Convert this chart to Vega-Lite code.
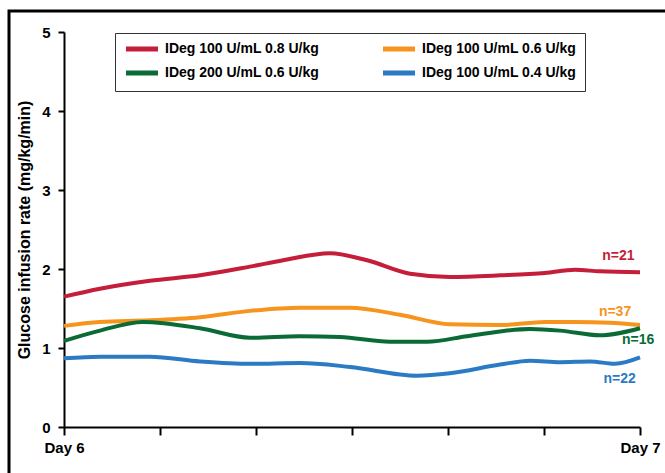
{
  "$schema": "https://vega.github.io/schema/vega-lite/v6.json",
  "autosize": "none",
  "width": 660,
  "height": 466,
  "padding": {"left": 9, "top": 11, "right": -4, "bottom": -4},
  "background": "white",
  "config": {
    "view": {"stroke": "black", "strokeWidth": 3},
    "font": "Liberation Sans",
    "axis": {
      "grid": false,
      "domainColor": "black",
      "domainWidth": 2,
      "tickColor": "black",
      "tickWidth": 2,
      "labelFont": "Liberation Sans",
      "labelFontWeight": "bold",
      "labelFontSize": 15,
      "labelColor": "black",
      "titleFont": "Liberation Sans",
      "titleFontWeight": "bold",
      "titleColor": "black"
    }
  },
  "datasets": {
    "lines": [
      {"series": "IDeg 100 U/mL 0.8 U/kg", "hour": 0, "gir": 1.65},
      {"series": "IDeg 100 U/mL 0.8 U/kg", "hour": 1.5, "gir": 1.75},
      {"series": "IDeg 100 U/mL 0.8 U/kg", "hour": 3.58, "gir": 1.85},
      {"series": "IDeg 100 U/mL 0.8 U/kg", "hour": 5.67, "gir": 1.92},
      {"series": "IDeg 100 U/mL 0.8 U/kg", "hour": 7.75, "gir": 2.03},
      {"series": "IDeg 100 U/mL 0.8 U/kg", "hour": 9.13, "gir": 2.11},
      {"series": "IDeg 100 U/mL 0.8 U/kg", "hour": 11.08, "gir": 2.2},
      {"series": "IDeg 100 U/mL 0.8 U/kg", "hour": 12.63, "gir": 2.11},
      {"series": "IDeg 100 U/mL 0.8 U/kg", "hour": 14.42, "gir": 1.94},
      {"series": "IDeg 100 U/mL 0.8 U/kg", "hour": 16.08, "gir": 1.9},
      {"series": "IDeg 100 U/mL 0.8 U/kg", "hour": 18.17, "gir": 1.92},
      {"series": "IDeg 100 U/mL 0.8 U/kg", "hour": 20.04, "gir": 1.95},
      {"series": "IDeg 100 U/mL 0.8 U/kg", "hour": 21.29, "gir": 1.99},
      {"series": "IDeg 100 U/mL 0.8 U/kg", "hour": 22.33, "gir": 1.97},
      {"series": "IDeg 100 U/mL 0.8 U/kg", "hour": 24, "gir": 1.96},
      {"series": "IDeg 100 U/mL 0.6 U/kg", "hour": 0, "gir": 1.28},
      {"series": "IDeg 100 U/mL 0.6 U/kg", "hour": 1.5, "gir": 1.33},
      {"series": "IDeg 100 U/mL 0.6 U/kg", "hour": 3.58, "gir": 1.35},
      {"series": "IDeg 100 U/mL 0.6 U/kg", "hour": 5.67, "gir": 1.39},
      {"series": "IDeg 100 U/mL 0.6 U/kg", "hour": 7.75, "gir": 1.47},
      {"series": "IDeg 100 U/mL 0.6 U/kg", "hour": 9.83, "gir": 1.51},
      {"series": "IDeg 100 U/mL 0.6 U/kg", "hour": 11.92, "gir": 1.51},
      {"series": "IDeg 100 U/mL 0.6 U/kg", "hour": 14, "gir": 1.42},
      {"series": "IDeg 100 U/mL 0.6 U/kg", "hour": 16.08, "gir": 1.3},
      {"series": "IDeg 100 U/mL 0.6 U/kg", "hour": 18.17, "gir": 1.29},
      {"series": "IDeg 100 U/mL 0.6 U/kg", "hour": 20.04, "gir": 1.33},
      {"series": "IDeg 100 U/mL 0.6 U/kg", "hour": 21.29, "gir": 1.33},
      {"series": "IDeg 100 U/mL 0.6 U/kg", "hour": 22.75, "gir": 1.32},
      {"series": "IDeg 100 U/mL 0.6 U/kg", "hour": 24, "gir": 1.29},
      {"series": "IDeg 200 U/mL 0.6 U/kg", "hour": 0, "gir": 1.09},
      {"series": "IDeg 200 U/mL 0.6 U/kg", "hour": 1.5, "gir": 1.22},
      {"series": "IDeg 200 U/mL 0.6 U/kg", "hour": 3.29, "gir": 1.33},
      {"series": "IDeg 200 U/mL 0.6 U/kg", "hour": 5.67, "gir": 1.25},
      {"series": "IDeg 200 U/mL 0.6 U/kg", "hour": 7.75, "gir": 1.13},
      {"series": "IDeg 200 U/mL 0.6 U/kg", "hour": 9.83, "gir": 1.15},
      {"series": "IDeg 200 U/mL 0.6 U/kg", "hour": 11.5, "gir": 1.14},
      {"series": "IDeg 200 U/mL 0.6 U/kg", "hour": 13.58, "gir": 1.08},
      {"series": "IDeg 200 U/mL 0.6 U/kg", "hour": 15.13, "gir": 1.08},
      {"series": "IDeg 200 U/mL 0.6 U/kg", "hour": 16.79, "gir": 1.15},
      {"series": "IDeg 200 U/mL 0.6 U/kg", "hour": 18.17, "gir": 1.21},
      {"series": "IDeg 200 U/mL 0.6 U/kg", "hour": 19.42, "gir": 1.24},
      {"series": "IDeg 200 U/mL 0.6 U/kg", "hour": 20.67, "gir": 1.22},
      {"series": "IDeg 200 U/mL 0.6 U/kg", "hour": 22.33, "gir": 1.16},
      {"series": "IDeg 200 U/mL 0.6 U/kg", "hour": 24, "gir": 1.25},
      {"series": "IDeg 100 U/mL 0.4 U/kg", "hour": 0, "gir": 0.87},
      {"series": "IDeg 100 U/mL 0.4 U/kg", "hour": 1.5, "gir": 0.89},
      {"series": "IDeg 100 U/mL 0.4 U/kg", "hour": 3.58, "gir": 0.89},
      {"series": "IDeg 100 U/mL 0.4 U/kg", "hour": 5.67, "gir": 0.83},
      {"series": "IDeg 100 U/mL 0.4 U/kg", "hour": 7.75, "gir": 0.8},
      {"series": "IDeg 100 U/mL 0.4 U/kg", "hour": 9.83, "gir": 0.81},
      {"series": "IDeg 100 U/mL 0.4 U/kg", "hour": 11.92, "gir": 0.76},
      {"series": "IDeg 100 U/mL 0.4 U/kg", "hour": 14.71, "gir": 0.65},
      {"series": "IDeg 100 U/mL 0.4 U/kg", "hour": 16.08, "gir": 0.68},
      {"series": "IDeg 100 U/mL 0.4 U/kg", "hour": 18.17, "gir": 0.79},
      {"series": "IDeg 100 U/mL 0.4 U/kg", "hour": 19.42, "gir": 0.84},
      {"series": "IDeg 100 U/mL 0.4 U/kg", "hour": 20.67, "gir": 0.82},
      {"series": "IDeg 100 U/mL 0.4 U/kg", "hour": 21.92, "gir": 0.83},
      {"series": "IDeg 100 U/mL 0.4 U/kg", "hour": 22.96, "gir": 0.8},
      {"series": "IDeg 100 U/mL 0.4 U/kg", "hour": 24, "gir": 0.88}
    ],
    "labels": [
      {"series": "IDeg 100 U/mL 0.8 U/kg", "hour": 23.1, "gir": 2.16, "label": "n=21"},
      {"series": "IDeg 100 U/mL 0.6 U/kg", "hour": 22.96, "gir": 1.46, "label": "n=37"},
      {"series": "IDeg 200 U/mL 0.6 U/kg", "hour": 23.92, "gir": 1.1, "label": "n=16"},
      {"series": "IDeg 100 U/mL 0.4 U/kg", "hour": 23.15, "gir": 0.61, "label": "n=22"}
    ]
  },
  "layer": [
    {
      "data": {"name": "lines"},
      "mark": {"type": "line", "strokeWidth": 4, "interpolate": "monotone"},
      "encoding": {
        "x": {
          "field": "hour", "type": "quantitative",
          "scale": {"domain": [0, 24], "range": [55, 631], "nice": false, "zero": false},
          "axis": {
            "values": [0, 4, 8, 12, 16, 20, 24],
            "labelExpr": "datum.value == 0 ? 'Day 6' : (datum.value == 24 ? 'Day 7' : '')",
            "title": null,
            "offset": -50,
            "tickSize": 8,
            "labelPadding": 5,
            "labelFlush": false,
            "labelOverlap": false
          }
        },
        "y": {
          "field": "gir", "type": "quantitative",
          "scale": {"domain": [0, 5], "range": [416, 21], "nice": false},
          "axis": {
            "values": [0, 1, 2, 3, 4, 5],
            "format": "d",
            "title": "Glucose infusion rate (mg/kg/min)",
            "titleFontSize": 16,
            "titlePadding": 9,
            "offset": -55,
            "tickSize": 6,
            "labelPadding": 8
          }
        },
        "color": {
          "field": "series", "type": "nominal",
          "scale": {
            "domain": ["IDeg 100 U/mL 0.8 U/kg", "IDeg 200 U/mL 0.6 U/kg", "IDeg 100 U/mL 0.6 U/kg", "IDeg 100 U/mL 0.4 U/kg"],
            "range": ["#C41E3A", "#0B6B37", "#F7941D", "#2B7BC4"]
          },
          "legend": {
            "title": null,
            "orient": "none",
            "legendX": 106,
            "legendY": 22,
            "columns": 2,
            "columnPadding": 52,
            "rowPadding": 4,
            "padding": 8,
            "symbolOffset": 11,
            "strokeColor": "#333333",
            "symbolType": "M-3,0H3",
            "symbolSize": 114,
            "symbolStrokeWidth": 5,
            "symbolFillColor": "transparent",
            "labelFont": "Liberation Sans",
            "labelFontWeight": "bold",
            "labelFontSize": 14,
            "labelColor": "black",
            "labelOffset": 15,
            "labelLimit": 300
          }
        },
        "detail": {"field": "series"}
      }
    },
    {
      "data": {"name": "labels"},
      "mark": {"type": "text", "font": "Liberation Sans", "fontWeight": "bold", "fontSize": 14, "align": "center", "baseline": "middle"},
      "encoding": {
        "x": {"field": "hour", "type": "quantitative"},
        "y": {"field": "gir", "type": "quantitative"},
        "text": {"field": "label"},
        "color": {"field": "series", "type": "nominal", "legend": null}
      }
    }
  ]
}
